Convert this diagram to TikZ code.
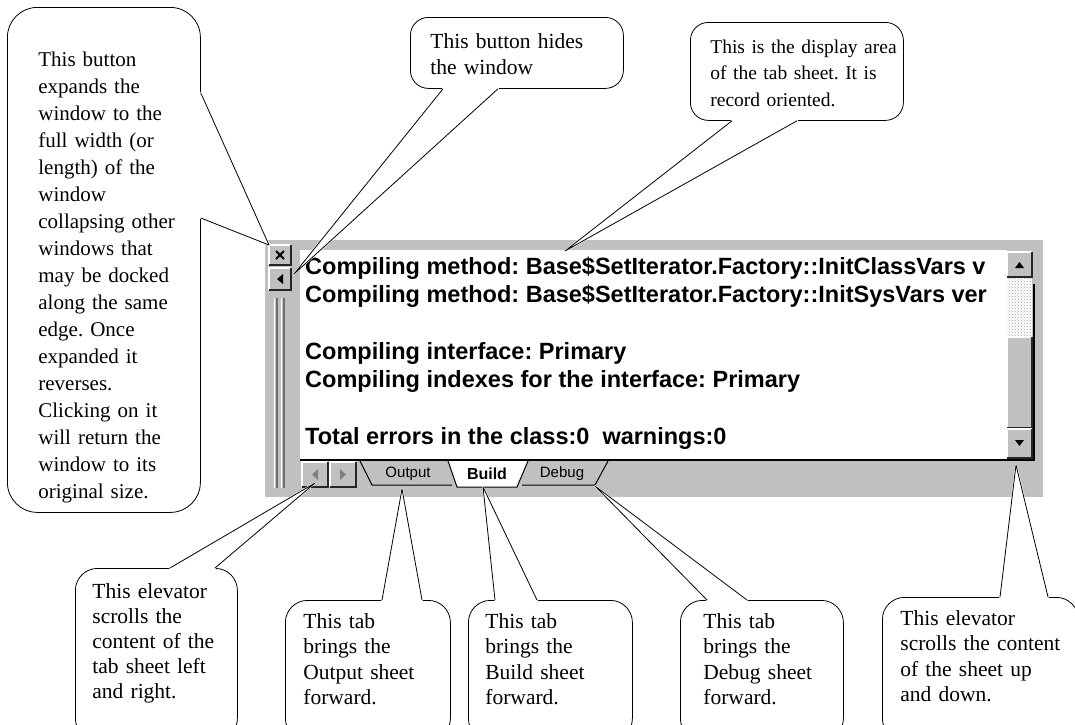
\documentclass[tikz,border=0pt]{standalone}
\usepackage{fontspec}
\setmainfont{Liberation Serif}
\setsansfont{Liberation Sans}
\usetikzlibrary{calc,patterns}
\definecolor{wingray}{RGB}{192,192,192}
\definecolor{winshade}{RGB}{110,110,110}
\frenchspacing
\hyphenpenalty=10000
\exhyphenpenalty=10000
\tikzset{
  bubble/.style={draw,line width=0.8pt,fill=white,rounded corners=#1,align=left,
    anchor=north west,text height=14pt},
  bubble/.default=22pt,
  logline/.style={font=\sffamily\bfseries\fontsize{23.5}{28}\selectfont,anchor=base west,inner sep=0pt},
  tablbl/.style={font=\sffamily\fontsize{15}{15}\selectfont,inner sep=0pt},
  tabline/.style={black,line width=1pt},
  callline/.style={black,line width=0.8pt,line join=round}
}
% raised windows button: x1,y1,x2,y2
\newcommand{\winbtn}[4]{%
  \fill[wingray] (#1,#2) rectangle (#3,#4);
  \draw[white,line width=1.2pt] (#1,#4)--(#1,#2)--(#3,#2);
  \draw[black!85,line width=1.5pt] (#1,#4)--(#3,#4)--(#3,#2);}
% pointer of a bubble: base A, tip, base B
\newcommand{\callptr}[3]{%
  \fill[white,draw=white,line width=1.8pt,line join=round] (#1)--(#2)--(#3)--cycle;
  \draw[callline] (#1)--(#2)--(#3);}
\begin{document}
\begin{tikzpicture}[x=1pt,y=-1pt]
\useasboundingbox (0,0) rectangle (1075,724);
% window
\fill[wingray] (265,240) rectangle (1043,497);
\fill[white] (300,250) rectangle (1007,460);
\begin{scope}
  \clip (300,250) rectangle (1007,460);
  \foreach \ly/\t [count=\i] in {274/{Compiling method: Base\$SetIterator.Factory::InitClassVars v},
      302/{Compiling method: Base\$SetIterator.Factory::InitSysVars ver},
      359/{Compiling interface: Primary},
      387/{Compiling indexes for the interface: Primary},
      444/{Total errors in the class:0\ \ warnings:0}}
    \node[logline] (log\i) at (305,\ly) {\t};
\end{scope}
% left side buttons and gripper
\winbtn{269}{245}{291}{265}
\draw[line width=1.8pt] (276,251)--(284,259) (276,259)--(284,251);
\winbtn{269}{268}{291}{290}
\fill (283,274)--(283,284)--(277,279)--cycle;
\foreach \gx in {274,281}{
  \fill[white] (\gx,298) rectangle (\gx+1.3,488);
  \fill[winshade] (\gx+2.3,298) rectangle (\gx+3.6,488);
}
% vertical scroll bar
\winbtn{1007}{252}{1032}{277}
\fill (1015,268)--(1024,268)--(1019.5,262)--cycle;
\fill[white] (1007,278) rectangle (1032,337);
\fill[pattern=crosshatch dots,pattern color=gray!75] (1007,278) rectangle (1032,337);
\winbtn{1007}{337}{1032}{428}
\winbtn{1007}{429}{1032}{458}
\fill (1015,440)--(1024,440)--(1019.5,446)--cycle;
\draw[line width=1.6pt] (300,460)--(1034,460)--(1034,284);
% tab bar
\winbtn{302}{462}{328}{487}
\fill[gray] (318,469)--(318,480)--(312,474.5)--cycle;
\winbtn{330}{462}{356}{487}
\fill[gray] (340,469)--(340,480)--(346,474.5)--cycle;
\draw[tabline] (360,461)--(372,485)--(452,485);
\fill[white] (448,461)--(457,487)--(517,487)--(528,461)--cycle;
\draw[tabline] (448,461)--(457,487)--(517,487)--(528,461);
\draw[tabline] (522,485)--(595,485)--(608,461);
\node[tablbl] (outlbl) at (408,474) {Output};
\node[tablbl,font=\sffamily\bfseries\fontsize{16}{16}\selectfont] (buildlbl) at (487,474) {Build};
\node[tablbl] (debuglbl) at (562,474) {Debug};
% points the bubbles show
\coordinate (expandtip) at (269,245);
\coordinate (hidetip) at (294,274);
\coordinate (areatip) at (565,251);
\coordinate (hscrolltip) at (315,483);
\coordinate (outtip) at (402,489);
\coordinate (buildtip) at (483,487);
\coordinate (debugtip) at (595,486);
\coordinate (vscrolltip) at (1016,465);
% bubbles
\node[bubble=30pt,font=\fontsize{21}{27}\selectfont,text width=131pt,inner xsep=31pt,inner ysep=45pt,text depth=401pt]
  (expand) at (7,7) {This~button\\expands~the\\window~to~the\\full~width~(or\\length)~of~the\\window\\collapsing~other\\windows~that\\may~be~docked\\along~the~same\\edge.~Once\\expanded~it\\reverses.\\Clicking~on~it\\will~return~the\\window~to~its\\original~size.};
\node[bubble=18pt,font=\fontsize{21.5}{26}\selectfont,text width=173pt,inner xsep=20pt,inner ysep=17pt,text depth=23pt]
  (hide) at (410,17) {This~button~hides\\the~window};
\node[bubble=18pt,font=\fontsize{19.5}{26.5}\selectfont,text width=173pt,inner xsep=20pt,inner ysep=17pt,text depth=50pt]
  (area) at (690,22) {This~is~the~display~area\\of~the~tab~sheet.~It~is\\record~oriented.};
\node[bubble,font=\fontsize{21.5}{25}\selectfont,text width=128pt,inner xsep=17pt,inner ysep=16pt,text depth=126pt]
  (hscroll) at (75,568) {This~elevator\\scrolls~the\\content~of~the\\tab~sheet~left\\and~right.};
\node[bubble,font=\fontsize{21.5}{25.5}\selectfont,text width=129pt,inner xsep=18pt,inner ysep=14pt,text depth=98pt]
  (outtab) at (285,600) {This~tab\\brings~the\\Output~sheet\\forward.};
\node[bubble,font=\fontsize{21.5}{25.5}\selectfont,text width=130pt,inner xsep=17pt,inner ysep=14pt,text depth=98pt]
  (buildtab) at (468,600) {This~tab\\brings~the\\Build~sheet\\forward.};
\node[bubble,font=\fontsize{21.5}{25.5}\selectfont,text width=117pt,inner xsep=23pt,inner ysep=14pt,text depth=98pt]
  (debugtab) at (680,600) {This~tab\\brings~the\\Debug~sheet\\forward.};
\node[bubble,font=\fontsize{21.5}{25.5}\selectfont,text width=160pt,inner xsep=18pt,inner ysep=14pt,text depth=101pt]
  (vscroll) at (882,597) {This~elevator\\scrolls~the~content\\of~the~sheet~up\\and~down.};
% pointers
\callptr{$(expand.north east)+(0,86)$}{expandtip}{$(expand.north east)+(0,211)$}
\callptr{$(hide.south west)+(33,0)$}{hidetip}{$(hide.south west)+(88,0)$}
\callptr{$(area.south west)+(42,0)$}{areatip}{$(area.south west)+(107,0)$}
\callptr{$(hscroll.north west)+(95,0)$}{hscrolltip}{$(hscroll.north west)+(140,0)$}
\callptr{$(outtab.north west)+(97,0)$}{outtip}{$(outtab.north west)+(137,0)$}
\callptr{$(buildtab.north west)+(27,0)$}{buildtip}{$(buildtab.north west)+(69,0)$}
\callptr{$(debugtab.north west)+(27,0)$}{debugtip}{$(debugtab.north west)+(67,0)$}
\callptr{$(vscroll.north west)+(118,0)$}{vscrolltip}{$(vscroll.north west)+(166,0)$}
\end{tikzpicture}
\end{document}
